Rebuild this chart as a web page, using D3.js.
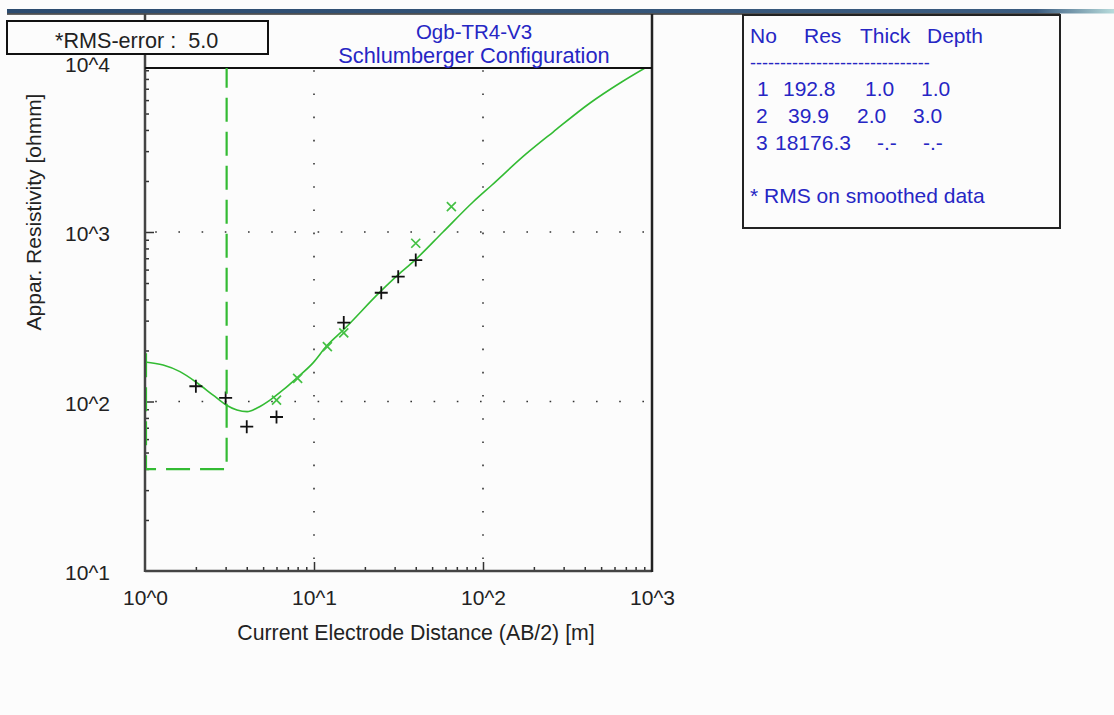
<!DOCTYPE html>
<html lang="en">
  <head>
    <meta charset="UTF-8" />
    <title>Ogb-TR4-V3</title>
    <style>
      body {
        margin: 0;
        background: #fcfcfc;
        font-family: "Liberation Sans", Arial, sans-serif;
      }
      svg text {
        white-space: pre;
      }
      .axis text {
        font-size: 21px;
        fill: #222;
        font-family: "Liberation Sans", Arial, sans-serif;
      }
    </style>
    <script src="https://d3js.org/d3.v7.min.js"></script>
  </head>
  <body>
    <div id="chart"></div>
    <script>
      // layered model (inversion result)
      const layerNo = [1, 2, 3];
      const layerRes = [192.8, 39.9, 18176.3];
      const layerThick = [1.0, 2.0];
      const layerDepth = [1.0, 3.0];
      const rmsError = 5.0;

      // field data (black +)
      const fieldAB = [2, 3, 4, 6, 15, 25, 31.5, 40];
      const fieldRho = [123, 105, 71, 81, 292, 438, 545, 683];

      // smoothed data (green x)
      const smoothAB = [6, 8, 12, 15, 40, 65];
      const smoothRho = [102, 137, 211, 254, 858, 1410];

      // calculated sounding curve
      const curveAB = [1.0, 1.28, 1.61, 2.03, 2.53, 3.02, 3.5, 4.02, 4.6, 5.49, 6.56, 7.93, 9.87, 11.9, 14.9, 24.6, 31.4, 39.6, 58.0, 87.3, 113, 177, 260, 430, 647, 909, 1000];
      const curveRho = [171, 164, 150, 129, 109, 95.4, 89.1, 87.1, 91.5, 102, 117, 138, 169, 213, 264, 443, 558, 683, 1000, 1503, 1894, 2847, 3890, 5770, 7570, 9280, 9800];

      const xTicks = [1, 10, 100, 1000];
      const xTickLabels = ["10^0", "10^1", "10^2", "10^3"];
      const yTicks = [10, 100, 1000, 10000];
      const yTickLabels = ["10^1", "10^2", "10^3", "10^4"];

      const W = 1114, H = 715;
      const plot = { left: 145, right: 652, top: 68, bottom: 571 };
      const green = "#33bb33";
      const blue = "#2626c4";

      const svg = d3
        .select("#chart")
        .append("svg")
        .attr("width", W)
        .attr("height", H);

      const x = d3.scaleLog().domain([1, 1000]).range([plot.left, plot.right]);
      const y = d3.scaleLog().domain([10, 10000]).range([plot.bottom, 62.5]);

      // window strip at the top
      const grad = svg.append("defs").append("linearGradient").attr("id", "bar");
      grad.append("stop").attr("offset", "0%").attr("stop-color", "#2c4b6f");
      grad.append("stop").attr("offset", "93%").attr("stop-color", "#3b5c80");
      grad.append("stop").attr("offset", "100%").attr("stop-color", "#b8dcdc");
      svg.append("rect").attr("x", 7).attr("y", 9).attr("width", W - 7).attr("height", 4.5).attr("fill", "url(#bar)");
      svg.append("line").attr("x1", 7).attr("x2", 1060).attr("y1", 14).attr("y2", 14)
        .attr("stroke", "#333").attr("stroke-width", 1.5);

      svg.append("defs").append("clipPath").attr("id", "clip")
        .append("rect")
        .attr("x", plot.left).attr("y", plot.top)
        .attr("width", plot.right - plot.left).attr("height", plot.bottom - plot.top);

      // dotted grid
      const grid = svg.append("g").attr("stroke", "#333").attr("stroke-width", 1.6);
      grid.selectAll(".gx").data([10, 100]).enter().append("line")
        .attr("x1", (d) => x(d)).attr("x2", (d) => x(d))
        .attr("y1", plot.top).attr("y2", plot.bottom)
        .attr("stroke-dasharray", "1.6,21.6").attr("stroke-dashoffset", 21);
      grid.selectAll(".gy").data([100, 1000]).enter().append("line")
        .attr("x1", plot.left).attr("x2", plot.right)
        .attr("y1", (d) => y(d)).attr("y2", (d) => y(d))
        .attr("stroke-dasharray", "1.6,21.6").attr("stroke-dashoffset", 13);

      // minor ticks
      const minorX = [];
      [1, 10, 100].forEach((dec) => d3.range(2, 10).forEach((m) => minorX.push(dec * m)));
      const minorY = [];
      [10, 100, 1000].forEach((dec) => d3.range(2, 10).forEach((m) => minorY.push(dec * m)));

      const xAxisMinor = svg.append("g").attr("class", "axis")
        .attr("transform", `translate(0,${plot.bottom})`)
        .call(d3.axisBottom(x).tickValues(minorX).tickSize(-4).tickSizeOuter(0).tickFormat(""));
      const xAxis = svg.append("g").attr("class", "axis")
        .attr("transform", `translate(0,${plot.bottom})`)
        .call(d3.axisBottom(x).tickValues(xTicks).tickSize(-9).tickSizeOuter(0).tickPadding(19)
          .tickFormat((d, i) => xTickLabels[i]));
      const yAxisMinor = svg.append("g").attr("class", "axis")
        .attr("transform", `translate(${plot.left},0)`)
        .call(d3.axisLeft(y).tickValues(minorY.filter((d) => y(d) > plot.top)).tickSize(-4).tickSizeOuter(0).tickFormat(""));
      const yAxis = svg.append("g").attr("class", "axis")
        .attr("transform", `translate(${plot.left},0)`)
        .call(d3.axisLeft(y).tickValues(yTicks).tickSize(-9).tickSizeOuter(0).tickPadding(35)
          .tickFormat((d, i) => yTickLabels[i]));

      [xAxisMinor, xAxis, yAxisMinor, yAxis].forEach((a) => {
        a.select(".domain").remove();
        a.selectAll(".tick line").attr("stroke", "#333").attr("stroke-width", 1.5);
      });
      yAxis.selectAll(".tick text").attr("dy", "0.42em");
      // no tick mark at the corners / top
      xAxis.selectAll(".tick").filter((d) => d === 1 || d === 1000).select("line").remove();
      yAxis.selectAll(".tick").filter((d) => d === 10 || d === 10000).select("line").remove();

      // calculated curve
      svg.append("path")
        .datum(curveAB.map((a, i) => [a, curveRho[i]]))
        .attr("clip-path", "url(#clip)")
        .attr("fill", "none")
        .attr("stroke", green)
        .attr("stroke-width", 1.6)
        .attr("d", d3.line().x((d) => x(d[0])).y((d) => y(d[1])).curve(d3.curveMonotoneX));

      // smoothed data
      const sx = 4.5;
      svg.append("g").selectAll("path")
        .data(smoothAB.map((a, i) => [a, smoothRho[i]]))
        .enter().append("path")
        .attr("fill", "none")
        .attr("stroke", "#44c044")
        .attr("stroke-width", 1.7)
        .attr("d", (d) => {
          const cx = x(d[0]), cy = y(d[1]);
          return `M${cx - sx},${cy - sx}L${cx + sx},${cy + sx}M${cx - sx},${cy + sx}L${cx + sx},${cy - sx}`;
        });

      // field data
      const px = 6.5;
      svg.append("g").selectAll("path")
        .data(fieldAB.map((a, i) => [a, fieldRho[i]]))
        .enter().append("path")
        .attr("fill", "none")
        .attr("stroke", "#111")
        .attr("stroke-width", 1.8)
        .attr("d", (d) => {
          const cx = x(d[0]), cy = y(d[1]);
          return `M${cx - px},${cy}L${cx + px},${cy}M${cx},${cy - px}L${cx},${cy + px}`;
        });

      // frame
      const frame = svg.append("g").attr("fill", "none");
      frame.append("line").attr("x1", plot.left).attr("x2", plot.left).attr("y1", 14).attr("y2", plot.bottom + 1)
        .attr("stroke", "#444").attr("stroke-width", 2.5);
      frame.append("line").attr("x1", plot.left).attr("x2", plot.right).attr("y1", plot.bottom).attr("y2", plot.bottom)
        .attr("stroke", "#444").attr("stroke-width", 2.5);
      frame.append("line").attr("x1", plot.right).attr("x2", plot.right).attr("y1", 14).attr("y2", plot.bottom + 1)
        .attr("stroke", "#222").attr("stroke-width", 2.5);
      frame.append("line").attr("x1", plot.left).attr("x2", plot.right).attr("y1", plot.top).attr("y2", plot.top)
        .attr("stroke", "#111").attr("stroke-width", 2);

      // model (step line, dashed) drawn over the frame, as in the original
      const stepPts = [[1, layerRes[0]]];
      layerDepth.forEach((dep, i) => {
        stepPts.push([dep, layerRes[i]]);
        stepPts.push([dep, layerRes[i + 1]]);
      });
      svg.append("path")
        .datum(stepPts)
        .attr("clip-path", "url(#clip)")
        .attr("transform", "translate(1,0)")
        .attr("fill", "none")
        .attr("stroke", green)
        .attr("stroke-width", 2.2)
        .attr("stroke-dasharray", "24,10")
        .attr("d", d3.line().x((d) => x(d[0])).y((d) => y(d[1])));

      // title
      const titleX = 474;
      svg.append("text").attr("x", titleX).attr("y", 39).attr("text-anchor", "middle")
        .style("font-size", "20.5px").attr("fill", blue).text("Ogb-TR4-V3");
      svg.append("text").attr("x", titleX).attr("y", 63).attr("text-anchor", "middle")
        .style("font-size", "21.8px").attr("fill", blue).text("Schlumberger Configuration");

      // rms box
      svg.append("rect").attr("x", 7).attr("y", 21).attr("width", 261).attr("height", 33)
        .attr("fill", "#fcfcfc").attr("stroke", "#111").attr("stroke-width", 2);
      svg.append("text").attr("x", 55).attr("y", 48)
        .style("font-size", "21.6px").attr("fill", "#222")
        .text(`*RMS-error :  ${rmsError.toFixed(1)}`);

      // axis titles
      svg.append("text").attr("x", 416).attr("y", 640).attr("text-anchor", "middle")
        .style("font-size", "21.3px").attr("fill", "#222")
        .text("Current Electrode Distance (AB/2) [m]");
      svg.append("text").attr("transform", "translate(41,212) rotate(-90)").attr("text-anchor", "middle")
        .style("font-size", "21px").attr("fill", "#222")
        .text("Appar. Resistivity [ohmm]");

      // model table
      svg.append("rect").attr("x", 743).attr("y", 15).attr("width", 317).attr("height", 213)
        .attr("fill", "none").attr("stroke", "#222").attr("stroke-width", 2);
      const table = svg.append("g").attr("fill", blue).style("font-size", "21px");
      const headX = [750, 804, 860, 927];
      ["No", "Res", "Thick", "Depth"].forEach((h, i) => {
        table.append("text").attr("x", headX[i]).attr("y", 43).text(h);
      });
      table.append("text").attr("x", 750).attr("y", 69).style("font-size", "18px")
        .text("-".repeat(30));
      const cellX = [
        [757, 783, 865, 921],
        [756, 788, 857, 913],
        [756, 775, 877, 923],
      ];
      const rowY = [96, 123, 150];
      layerNo.forEach((n, i) => {
        const cells = [
          String(n),
          layerRes[i].toFixed(1),
          i < layerThick.length ? layerThick[i].toFixed(1) : "-.-",
          i < layerDepth.length ? layerDepth[i].toFixed(1) : "-.-",
        ];
        cells.forEach((c, j) => {
          table.append("text").attr("x", cellX[i][j]).attr("y", rowY[i]).text(c);
        });
      });
      table.append("text").attr("x", 750).attr("y", 203).text("* RMS on smoothed data");
    </script>
  </body>
</html>
